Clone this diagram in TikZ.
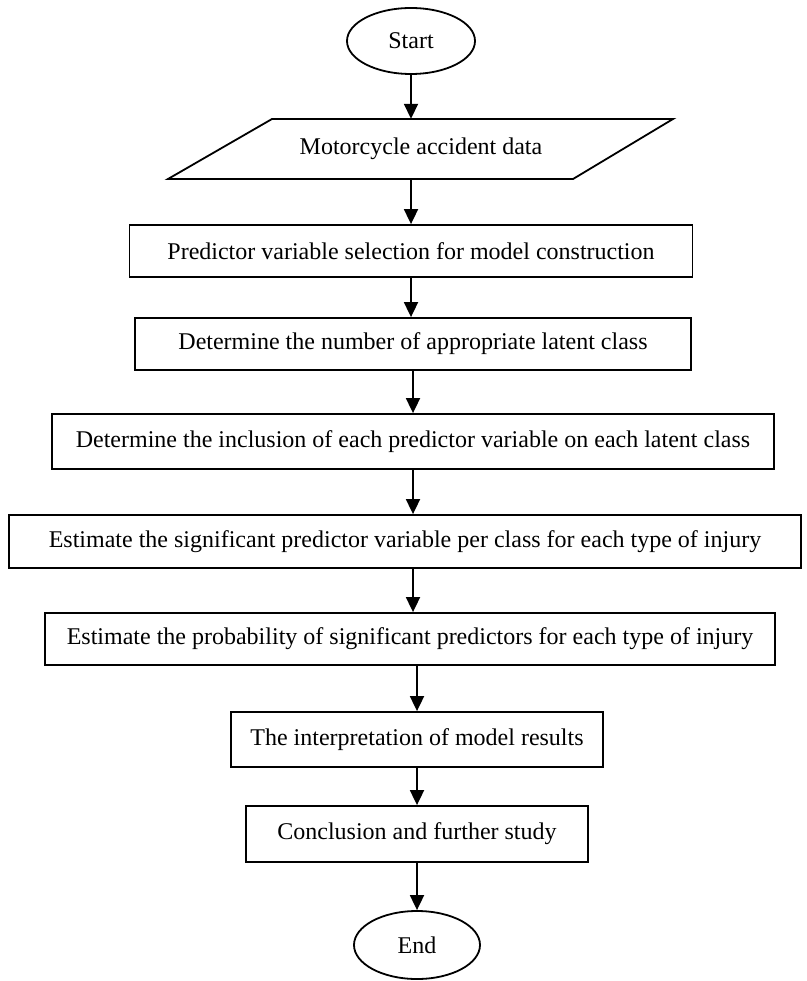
\documentclass[tikz,border=0pt]{standalone}
\usepackage{fontspec}
\setmainfont{Liberation Serif}
\usetikzlibrary{arrows.meta,shapes.geometric}
\begin{document}
\begin{tikzpicture}[x=1pt,y=-1pt,
  every node/.style={font=\fontsize{24}{28}\selectfont, inner sep=0pt},
  procbox/.style={draw, line width=1.8pt, rectangle, minimum height=53pt},
  termnode/.style={draw, line width=1.8pt, ellipse, minimum width=128pt, minimum height=66pt},
  flowarrow/.style={line width=1.8pt, -{Triangle[length=15pt,width=14pt]}}
]
\useasboundingbox (0,0) rectangle (806,981);
\node[termnode] (start) at (411,41) {Start};
\node[minimum height=60pt, minimum width=300pt] (data) at (421,149) {Motorcycle accident data};
\draw[line width=1.8pt, line join=miter] (272,119) -- (673,119) -- (573,179) -- (168,179) -- cycle;
\node[procbox, minimum width=563pt, minimum height=52pt] (b1) at (411,251) {Predictor variable selection for model construction};
\node[procbox, minimum width=556pt, minimum height=52pt] (b2) at (413,344) {Determine the number of appropriate latent class};
\node[procbox, minimum width=722pt, minimum height=55pt] (b3) at (413,441.5) {Determine the inclusion of each predictor variable on each latent class};
\node[procbox, minimum width=792pt, minimum height=53pt] (b4) at (405,541.5) {Estimate the significant predictor variable per class for each type of injury};
\node[procbox, minimum width=730pt, minimum height=52pt] (b5) at (410,639) {Estimate the probability of significant predictors for each type of injury};
\node[procbox, minimum width=372pt, minimum height=55pt] (b6) at (417,739.5) {The interpretation of model results};
\node[procbox, minimum width=342pt, minimum height=56pt] (b7) at (417,834) {Conclusion and further study};
\node[termnode, minimum width=126pt, minimum height=68pt] (end) at (417,945) {End};
\coordinate (xa) at (411,0);
\coordinate (xb) at (413,0);
\coordinate (xc) at (417,0);
\draw[flowarrow] (xa |- start.south) -- (xa |- data.north);
\draw[flowarrow] (xa |- data.south) -- (xa |- b1.north);
\draw[flowarrow] (xa |- b1.south) -- (xa |- b2.north);
\draw[flowarrow] (xb |- b2.south) -- (xb |- b3.north);
\draw[flowarrow] (xb |- b3.south) -- (xb |- b4.north);
\draw[flowarrow] (xb |- b4.south) -- (xb |- b5.north);
\draw[flowarrow] (xc |- b5.south) -- (xc |- b6.north);
\draw[flowarrow] (xc |- b6.south) -- (xc |- b7.north);
\draw[flowarrow] (xc |- b7.south) -- (xc |- end.north);
\end{tikzpicture}
\end{document}
